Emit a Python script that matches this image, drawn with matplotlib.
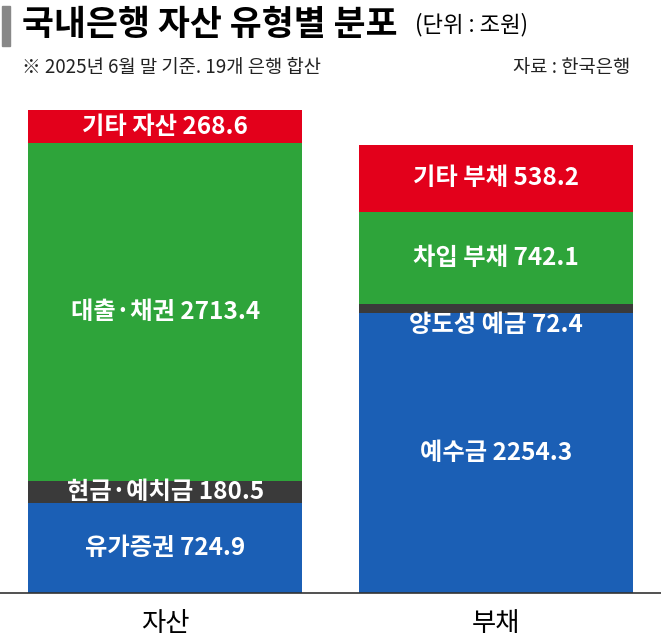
import matplotlib
matplotlib.use("Agg")
import matplotlib.pyplot as plt

plt.rcParams['font.family'] = ['Noto Sans CJK KR', 'DejaVu Sans']

categories = ['자산', '부채']
asset_names = ['유가증권', '현금·예치금', '대출·채권', '기타 자산']
asset_vals = [724.9, 180.5, 2713.4, 268.6]
liab_names = ['예수금', '양도성 예금', '차입 부채', '기타 부채']
liab_vals = [2254.3, 72.4, 742.1, 538.2]
colors = ['#1b5fb5', '#3a3a3a', '#2ea43a', '#e3001b']

fig = plt.figure(figsize=(6.61, 6.43), dpi=100)
ax = fig.add_axes([0, 50/643, 1, 483/643])
ax.set_xlim(-0.5, 1.5)
ax.set_ylim(0, sum(asset_vals))

for xi, names, vals in [(0, asset_names, asset_vals), (1, liab_names, liab_vals)]:
    bottom = 0
    for i, (n, v) in enumerate(zip(names, vals)):
        ax.bar(xi, v, bottom=bottom, width=0.83, color=colors[i], linewidth=0)
        y = bottom + v / 2
        if n == '양도성 예금':
            y = bottom - 100
        ax.text(xi, y, f'{n} {v}', color='white', fontsize=17.5, fontweight='bold',
                ha='center', va='center')
        bottom += v

for s in ['top', 'left', 'right']:
    ax.spines[s].set_visible(False)
ax.spines['bottom'].set_color('#333333')
ax.spines['bottom'].set_linewidth(1.2)
ax.set_yticks([])
ax.set_xticks([0, 1])
ax.set_xticklabels(categories, fontsize=19)
ax.tick_params(axis='x', length=0, pad=12)

fig.patches.append(plt.Rectangle((2/661, 1-46/643), 8/661, 40/643, transform=fig.transFigure,
                                 color='#888888'))
fig.text(22/661, 1-25/643, '국내은행 자산 유형별 분포', fontsize=25, fontweight='bold', va='center')
fig.text(415/661, 1-25/643, '(단위 : 조원)', fontsize=16, va='center')
fig.text(22/661, 1-67/643, '※ 2025년 6월 말 기준. 19개 은행 합산', fontsize=13.5, va='center', color='#222222')
fig.text(630/661, 1-67/643, '자료 : 한국은행', fontsize=13.5, va='center', ha='right', color='#222222')

fig.savefig('out.png', dpi=100)
